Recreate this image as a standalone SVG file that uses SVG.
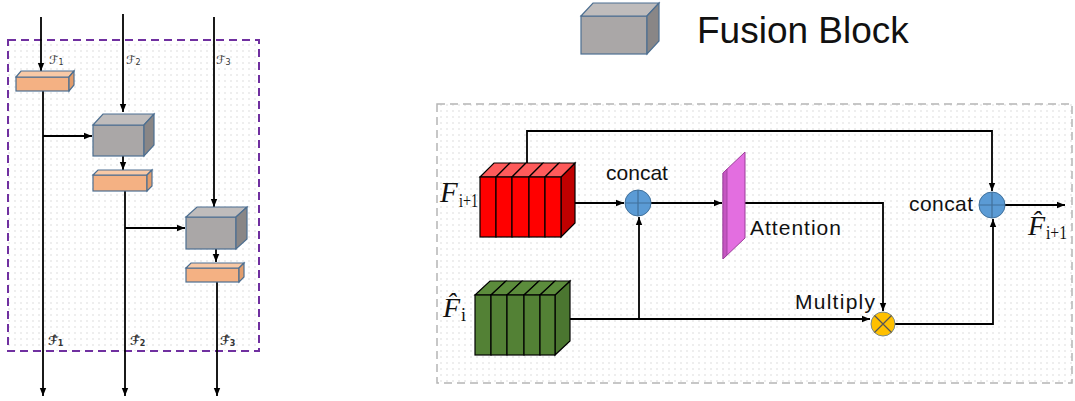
<svg xmlns="http://www.w3.org/2000/svg" width="1075" height="401" viewBox="0 0 1075 401">
<style>
.ln{fill:none;stroke:#000;stroke-width:1.8}
.ob .f{fill:#f4b183}.ob .t{fill:#f8c9a6}.ob .s{fill:#e29d6c}
.ob polygon,.ob rect,.gb polygon,.gb rect{stroke:#4d6f91;stroke-width:1.2}
.gb .f{fill:#aaa7a7}.gb .t{fill:#bfbcbc}.gb .s{fill:#898686}
.red rect{fill:#ff0000;stroke:#000;stroke-width:1.2}.red .t{fill:#ff5b5b;stroke:#000;stroke-width:1.2}.red .s{fill:#c00000;stroke:#000;stroke-width:1.2}
.grn rect{fill:#538135;stroke:#000;stroke-width:1.2}.grn .t{fill:#5c8c3c;stroke:#000;stroke-width:1.2}.grn .s{fill:#4b7630;stroke:#000;stroke-width:1.2}
.lbl{font-family:"Liberation Sans",Arial,sans-serif;fill:#111}
.cal{font-family:"DejaVu Sans",sans-serif;font-size:12px;fill:#333}
.mf{font-family:"Liberation Serif","Times New Roman",serif;fill:#111}
</style>
<defs>
<pattern id="dots" width="6" height="6" patternUnits="userSpaceOnUse"><circle cx="3" cy="3" r="0.7" fill="#d0d0d0"/></pattern>
<marker id="ah" viewBox="0 0 10 10" refX="10" refY="5" markerWidth="8" markerHeight="8" markerUnits="userSpaceOnUse" orient="auto"><path d="M0,1 L10,5 L0,9 z" fill="#000"/></marker>
</defs>
<rect width="1075" height="401" fill="#fff"/>

<!-- left panel frame -->
<rect x="8" y="40" width="251" height="311" fill="url(#dots)" stroke="#7030a0" stroke-width="2" stroke-dasharray="8,5"/>
<!-- right panel frame -->
<rect x="437" y="104" width="635" height="279" fill="url(#dots)" stroke="#b5b5b5" stroke-width="1.5" stroke-dasharray="8,5"/>

<g id="connectors">
<path class="ln" d="M41,17 V71" marker-end="url(#ah)"/>
<path class="ln" d="M43,91 V396" marker-end="url(#ah)"/>
<path class="ln" d="M43,136 H92" marker-end="url(#ah)"/>
<path class="ln" d="M123,14 V112" marker-end="url(#ah)"/>
<path class="ln" d="M123,156 V170" marker-end="url(#ah)"/>
<path class="ln" d="M125,191 V396" marker-end="url(#ah)"/>
<path class="ln" d="M125,228 H185" marker-end="url(#ah)"/>
<path class="ln" d="M214,17 V207" marker-end="url(#ah)"/>
<path class="ln" d="M216,249 V262" marker-end="url(#ah)"/>
<path class="ln" d="M217,282 V396" marker-end="url(#ah)"/>

<path class="ln" d="M527,163 V131 H992 V191" marker-end="url(#ah)"/>
<path class="ln" d="M567,203 H624" marker-end="url(#ah)"/>
<path class="ln" d="M651,203 H722" marker-end="url(#ah)"/>
<path class="ln" d="M735,203 H883 V311" marker-end="url(#ah)"/>
<path class="ln" d="M562,319 H870" marker-end="url(#ah)"/>
<path class="ln" d="M639,319 V217" marker-end="url(#ah)"/>
<path class="ln" d="M895,324 H993 V219" marker-end="url(#ah)"/>
<path class="ln" d="M1005,205 H1065" marker-end="url(#ah)"/>
</g>

<g id="legend-fusion" class="gb">
<rect class="f" x="581" y="16" width="66" height="38"/>
<polygon class="t" points="581,16 593,3 659,3 647,16"/>
<polygon class="s" points="647,16 659,3 659,41 647,54"/>
<text class="lbl" x="697" y="43" font-size="37">Fusion Block</text>
</g>

<g id="orange1" class="ob">
<rect class="f" x="16" y="77" width="53" height="14"/>
<polygon class="t" points="16,77 21,71 74,71 69,77"/>
<polygon class="s" points="69,77 74,71 74,85 69,91"/>
</g>
<g id="fusion1" class="gb">
<rect class="f" x="93" y="125" width="51" height="31"/>
<polygon class="t" points="93,125 103,114 154,114 144,125"/>
<polygon class="s" points="144,125 154,114 154,145 144,156"/>
</g>
<g id="orange2" class="ob">
<rect class="f" x="93" y="175" width="54" height="16"/>
<polygon class="t" points="93,175 98,170 152,170 147,175"/>
<polygon class="s" points="147,175 152,170 152,186 147,191"/>
</g>
<g id="fusion2" class="gb">
<rect class="f" x="186" y="217" width="50" height="32"/>
<polygon class="t" points="186,217 197,207 247,207 236,217"/>
<polygon class="s" points="236,217 247,207 247,239 236,249"/>
</g>
<g id="orange3" class="ob">
<rect class="f" x="186" y="268" width="53" height="14"/>
<polygon class="t" points="186,268 191,263 244,263 239,268"/>
<polygon class="s" points="239,268 244,263 244,277 239,282"/>
</g>

<g id="left-labels">
<text class="cal" x="49" y="64">ℱ<tspan font-size="8" dy="1">1</tspan></text>
<text class="cal" x="126" y="64">ℱ<tspan font-size="8" dy="1">2</tspan></text>
<text class="cal" x="216" y="64">ℱ<tspan font-size="8" dy="1">3</tspan></text>
<text class="cal" x="48" y="345" font-weight="bold" fill="#111">ℱ̂<tspan font-size="8" dy="1">1</tspan></text>
<text class="cal" x="130" y="345" font-weight="bold" fill="#111">ℱ̂<tspan font-size="8" dy="1">2</tspan></text>
<text class="cal" x="220" y="345" font-weight="bold" fill="#111">ℱ̂<tspan font-size="8" dy="1">3</tspan></text>
</g>

<g id="red-block" class="red">
<polygon class="s" points="561,177 575,163 575,223 561,237"/>
<polygon class="t" points="480,177 494,163 510,163 496,177"/>
<polygon class="t" points="496,177 510,163 526,163 512,177"/>
<polygon class="t" points="512,177 526,163 543,163 529,177"/>
<polygon class="t" points="529,177 543,163 559,163 545,177"/>
<polygon class="t" points="545,177 559,163 575,163 561,177"/>
<rect x="480" y="177" width="16" height="60"/>
<rect x="496" y="177" width="16" height="60"/>
<rect x="512" y="177" width="17" height="60"/>
<rect x="529" y="177" width="16" height="60"/>
<rect x="545" y="177" width="16" height="60"/>
</g>
<text class="mf" x="440" y="202" font-size="29" font-style="italic">F</text>
<text class="mf" x="459" y="207" font-size="18" textLength="19" lengthAdjust="spacingAndGlyphs">i+1</text>

<g id="green-block" class="grn">
<polygon class="s" points="555,295 570,281 570,341 555,355"/>
<polygon class="t" points="475,295 490,281 506,281 491,295"/>
<polygon class="t" points="491,295 506,281 522,281 507,295"/>
<polygon class="t" points="507,295 522,281 539,281 524,295"/>
<polygon class="t" points="524,295 539,281 555,281 540,295"/>
<polygon class="t" points="540,295 555,281 570,281 555,295"/>
<rect x="475" y="295" width="16" height="60"/>
<rect x="491" y="295" width="16" height="60"/>
<rect x="507" y="295" width="17" height="60"/>
<rect x="524" y="295" width="16" height="60"/>
<rect x="540" y="295" width="15" height="60"/>
</g>
<text class="mf" x="443" y="317" font-size="28" font-style="italic">F̂</text>
<text class="mf" x="461" y="321" font-size="18">i</text>

<g id="concat1">
<circle cx="638" cy="203" r="13" fill="#5b9bd5" stroke="#41719c" stroke-width="1"/>
<path d="M625,203 H651 M638,190 V216" stroke="#41719c" stroke-width="1.2"/>
<text class="lbl" x="637" y="180" font-size="21" text-anchor="middle">concat</text>
</g>

<g id="attention">
<polygon points="723,173 745,152 745,238 723,259" fill="#e36ee0" stroke="#9b3f99" stroke-width="1"/>
<polygon points="723,173 727,169 727,255 723,259" fill="#c556c2" stroke="#9b3f99" stroke-width="0.8"/>
<text class="lbl" x="750" y="235" font-size="21" textLength="91">Attention</text>
</g>

<g id="multiply">
<circle cx="883" cy="324" r="12" fill="#ffc000" stroke="#7a8a8a" stroke-width="1"/>
<path d="M874.5,315.5 L891.5,332.5 M891.5,315.5 L874.5,332.5" stroke="#555" stroke-width="1.2"/>
<text class="lbl" x="795" y="309" font-size="21" textLength="80">Multiply</text>
</g>

<g id="concat2">
<circle cx="992" cy="205" r="13" fill="#5b9bd5" stroke="#41719c" stroke-width="1"/>
<path d="M979,205 H1005 M992,192 V218" stroke="#41719c" stroke-width="1.2"/>
<text class="lbl" x="909" y="211" font-size="21" textLength="64">concat</text>
</g>

<text class="mf" x="1028" y="235" font-size="28" font-style="italic">F̂</text>
<text class="mf" x="1046" y="239" font-size="18" textLength="21" lengthAdjust="spacingAndGlyphs">i+1</text>
</svg>
